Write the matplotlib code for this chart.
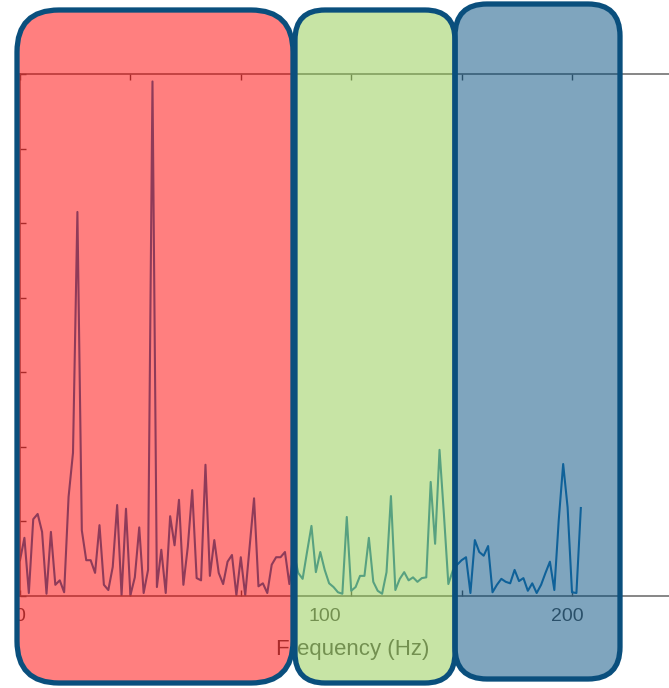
import numpy as np
import matplotlib
matplotlib.use("Agg")
import matplotlib.pyplot as plt
from matplotlib.patches import FancyBboxPatch

# spectrum amplitude per frequency bin (bin width 1.6 Hz)
FREQ_STEP = 1.6
AMPS = [
    0.48, 0.78, 0.04, 1.03, 1.10, 0.86, 0.03, 0.86, 0.15, 0.21,
    0.05, 1.33, 1.92, 5.15, 0.88, 0.48, 0.48, 0.31, 0.95, 0.15,
    0.08, 0.39, 1.22, 0.01, 1.17, 0.01, 0.25, 0.92, 0.04, 0.35,
    6.90, 0.12, 0.62, 0.04, 1.07, 0.68, 1.29, 0.15, 0.66, 1.42,
    0.24, 0.21, 1.76, 0.27, 0.75, 0.31, 0.16, 0.46, 0.55, 0.01,
    0.52, 0.01, 0.66, 1.31, 0.13, 0.17, 0.04, 0.42, 0.52, 0.52,
    0.59, 0.16, 0.59, 0.31, 0.23, 0.59, 0.94, 0.32, 0.59, 0.35,
    0.17, 0.12, 0.05, 0.03, 1.06, 0.07, 0.12, 0.27, 0.27, 0.78,
    0.19, 0.07, 0.03, 0.32, 1.34, 0.08, 0.23, 0.32, 0.21, 0.25,
    0.19, 0.24, 0.25, 1.53, 0.70, 1.96, 1.09, 0.16, 0.34, 0.42,
    0.48, 0.52, 0.04, 0.75, 0.59, 0.54, 0.67, 0.05, 0.15, 0.23,
    0.19, 0.17, 0.35, 0.20, 0.24, 0.07, 0.17, 0.04, 0.15, 0.31,
    0.46, 0.08, 1.02, 1.77, 1.19, 0.05, 0.04, 1.18,
]
X_TICKS = [0, 40, 80, 120, 160, 200]
X_LABELS = ["0", "100", "200"]
X_LABEL_POS = [0, 110.5, 198.2]
Y_TICKS = [0, 1, 2, 3, 4, 5, 6, 7]

# highlight boxes in figure pixels: (left, top, right, bottom, fill, rounding)
BOXES = [
    (17, 10, 293, 683, "#ff0000", 42),
    (295, 10, 455, 683, "#91cb4d", 30),
    (455, 4, 620, 679, "#014d7f", 32),
]

W, H = 669, 688
fig = plt.figure(figsize=(W / 100, H / 100), dpi=100)
ax = fig.add_axes([20 / W, (H - 596) / H, (W - 20) / W, (596 - 74) / H])

freqs = np.arange(len(AMPS)) * FREQ_STEP
ax.plot(freqs, AMPS, color="#1f77b4", linewidth=1.5)

ax.set_xlim(0, (W - 20) / 2.76)
ax.set_ylim(0, 7)
ax.set_xticks(X_TICKS)
ax.set_yticks(Y_TICKS)
ax.set_xticklabels([])
ax.set_yticklabels([])
ax.tick_params(direction="in", length=4, width=1, color="#555555",
               top=True, bottom=True, left=True, right=False)
for side in ["top", "bottom", "left"]:
    ax.spines[side].set_color("#666666")
    ax.spines[side].set_linewidth(1.1)
ax.spines["right"].set_visible(False)

for pos, lab in zip(X_LABEL_POS, X_LABELS):
    ax.text(pos, -0.27, lab, ha="center", va="center", fontsize=14,
            color="#555555", family="Liberation Sans")
ax.text(0.513, -0.102, "Frequency (Hz)", transform=ax.transAxes, ha="center",
        va="center", fontsize=16, color="#555555", family="Liberation Sans")

# overlay layer in pixel coordinates
ov = fig.add_axes([0, 0, 1, 1], facecolor="none")
ov.set_xlim(0, W)
ov.set_ylim(H, 0)
ov.axis("off")
for left, top, right, bottom, fill, r in BOXES:
    ov.add_patch(FancyBboxPatch(
        (left, top), right - left, bottom - top,
        boxstyle=f"round,pad=0,rounding_size={r}",
        facecolor=matplotlib.colors.to_rgba(fill, 0.5),
        edgecolor="#0a4f7d", linewidth=3.8))

fig.savefig("out.png", dpi=100)
